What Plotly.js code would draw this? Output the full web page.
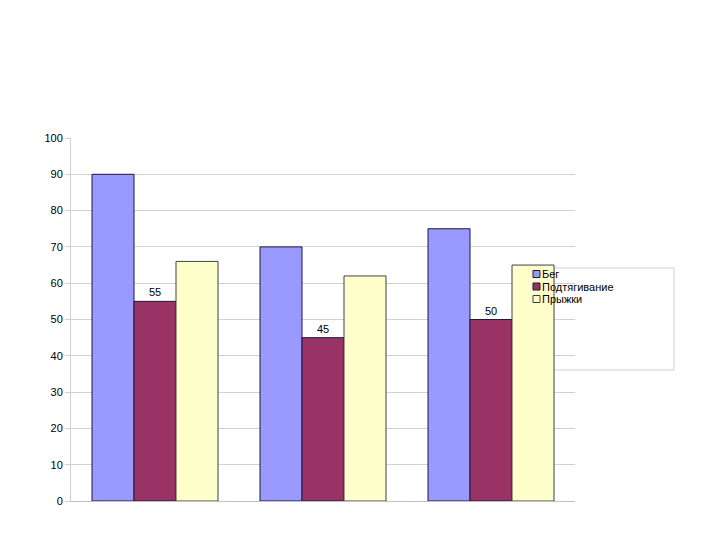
<!DOCTYPE html>
<html>
<head>
<meta charset="utf-8">
<script src="https://cdn.plot.ly/plotly-3.0.1.min.js"></script>
<style>html,body{margin:0;padding:0;background:#fff;}#chart{width:720px;height:540px;}</style>
</head>
<body>
<div id="chart"></div>
<script>
var categories = ["1", "2", "3"];
var seriesNames = ["Бег", "Подтягивание", "Прыжки"];
var run = [90, 70, 75];
var pullups = [55, 45, 50];
var jumps = [66, 62, 65];
var yTicks = [0, 10, 20, 30, 40, 50, 60, 70, 80, 90, 100];

var colors = ['#9999FF', '#993366', '#FFFFCC'];
var edges = ['#1a1a40', '#1a1a40', '#404040'];

var traces = [
  {type: 'bar', name: seriesNames[0], x: categories, y: run,
   marker: {color: colors[0], line: {color: edges[0], width: 1}}, hoverinfo: 'none'},
  {type: 'bar', name: seriesNames[1], x: categories, y: pullups,
   text: pullups.map(String), textposition: 'outside', cliponaxis: false,
   textfont: {family: 'Arial, Liberation Sans, sans-serif', size: 11, color: '#000'},
   marker: {color: colors[1], line: {color: edges[1], width: 1}}, hoverinfo: 'none'},
  {type: 'bar', name: seriesNames[2], x: categories, y: jumps,
   marker: {color: colors[2], line: {color: edges[2], width: 1}}, hoverinfo: 'none'}
];

// legend built from annotations + small square shapes (pixel -> paper helpers)
function px(x) { return (x - 71) / 504; }
function py(y) { return (501 - y) / 363; }
var rowY = [274, 286.5, 299];
var shapes = [{type: 'rect', xref: 'paper', yref: 'paper', layer: 'below',
               x0: px(533), x1: px(674), y0: py(370), y1: py(268),
               line: {color: '#d0d0d0', width: 1}, fillcolor: 'rgba(0,0,0,0)'}];
var annotations = [];
seriesNames.forEach(function (name, i) {
  shapes.push({type: 'rect', xref: 'paper', yref: 'paper', layer: 'above',
               x0: px(533), x1: px(540), y0: py(rowY[i] + 3.5), y1: py(rowY[i] - 3.5),
               line: {color: edges[i], width: 1}, fillcolor: colors[i]});
  annotations.push({xref: 'paper', yref: 'paper', x: px(540), y: py(rowY[i]),
                    xanchor: 'left', yanchor: 'middle', showarrow: false, text: name,
                    font: {size: 11, color: '#000'}});
});

var layout = {
  width: 720, height: 540,
  margin: {l: 71, r: 145, t: 138, b: 39, pad: 0},
  paper_bgcolor: '#ffffff', plot_bgcolor: '#ffffff',
  barmode: 'group', bargap: 0.25, bargroupgap: 0,
  font: {family: 'Arial, Liberation Sans, sans-serif', size: 11, color: '#000'},
  xaxis: {type: 'category', showticklabels: false, showgrid: false, zeroline: false,
          showline: true, linecolor: '#c0c0c0', linewidth: 1, ticks: ''},
  yaxis: {range: [0, 100], tickvals: yTicks, ticktext: yTicks.map(String),
          showgrid: true, gridcolor: '#d0d0d0', gridwidth: 1, zeroline: false,
          showline: true, linecolor: '#d0d0d0', linewidth: 1,
          ticks: 'outside', ticklen: 5, tickcolor: '#d0d0d0',
          tickfont: {size: 11, color: '#000'}},
  showlegend: false,
  shapes: shapes,
  annotations: annotations
};

Plotly.newPlot('chart', traces, layout, {staticPlot: true, displayModeBar: false});
</script>
</body>
</html>
